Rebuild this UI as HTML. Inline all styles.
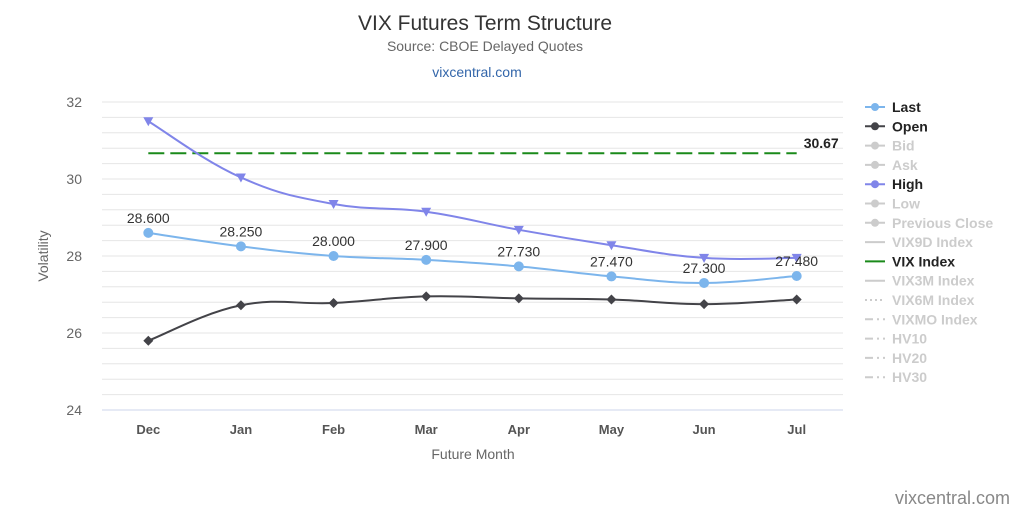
<!DOCTYPE html>
<html><head><meta charset="utf-8"><style>
body{margin:0;background:#fff;font-family:"Liberation Sans",sans-serif}
svg text{font-family:"Liberation Sans",sans-serif}
</style></head><body>
<svg id="c" width="1024" height="512" xmlns="http://www.w3.org/2000/svg">
<text x="485" y="30" text-anchor="middle" font-size="21" fill="#333">VIX Futures Term Structure</text>
<text x="485" y="51" text-anchor="middle" font-size="14" fill="#666">Source: CBOE Delayed Quotes</text>
<text x="477" y="77" text-anchor="middle" font-size="14" fill="#3366aa">vixcentral.com</text>
<text x="1010" y="504" text-anchor="end" font-size="18" fill="#888">vixcentral.com</text>
<text transform="translate(48,256) rotate(-90)" text-anchor="middle" font-size="14" fill="#666">Volatility</text>
<text x="473" y="459" text-anchor="middle" font-size="14" fill="#666">Future Month</text>
<g id="grid"></g><g id="series"></g><g id="legend"></g>
</svg>
<script>
const categories=["Dec","Jan","Feb","Mar","Apr","May","Jun","Jul"];
const lastVals=[28.6,28.25,28.0,27.9,27.73,27.47,27.3,27.48];
const openVals=[25.8,26.72,26.78,26.95,26.9,26.87,26.75,26.87];
const highVals=[31.5,30.04,29.35,29.15,28.68,28.28,27.95,27.95];
const vixIndex=30.67;
const yTicks=[24,26,28,30,32];
const legendItems=["Last","Open","Bid","Ask","High","Low","Previous Close","VIX9D Index","VIX Index","VIX3M Index","VIX6M Index","VIXMO Index","HV10","HV20","HV30"];

const NS="http://www.w3.org/2000/svg";
const L=102,R=843,T=102,B=410,ymin=24,ymax=32;
const x=i=>L+(R-L)/categories.length*(i+0.5);
const y=v=>B-(v-ymin)/(ymax-ymin)*(B-T);
function mk(p,tag,a){const e=document.createElementNS(NS,tag);for(const k in a)e.setAttribute(k,a[k]);p.appendChild(e);return e;}
const grid=document.getElementById('grid'),ser=document.getElementById('series'),leg=document.getElementById('legend');
for(let v=ymin;v<=ymax+1e-6;v+=0.4){
  const l=mk(grid,'line',{x1:L,x2:R,y1:y(v),y2:y(v),stroke:Math.abs(v-ymin)<1e-6?'#ccd6eb':'#e6e6e6','stroke-width':1});
  
  
}
yTicks.forEach(t=>{const e=mk(grid,'text',{x:82,y:y(t)+5,'text-anchor':'end','font-size':14,fill:'#666'});e.textContent=t;
  
  });
categories.forEach((c,i)=>{const e=mk(grid,'text',{x:x(i),y:434,'text-anchor':'middle','font-size':13,'font-weight':'bold',fill:'#555'});e.textContent=c;
  
  });
function path(vals){const p=vals.map((v,i)=>[x(i),y(v)]);let d=`M${p[0][0]},${p[0][1]}`;
  for(let i=0;i<p.length-1;i++){const p0=p[Math.max(0,i-1)],p1=p[i],p2=p[i+1],p3=p[Math.min(p.length-1,i+2)];const k=0.2;
    d+=`C${p1[0]+(p2[0]-p0[0])*k},${p1[1]+(p2[1]-p0[1])*k} ${p2[0]-(p3[0]-p1[0])*k},${p2[1]-(p3[1]-p1[1])*k} ${p2[0]},${p2[1]}`;}
  return d;}
// VIX index
const vl=mk(ser,'line',{x1:x(0),x2:x(7),y1:y(vixIndex),y2:y(vixIndex),stroke:'#1a8a1a','stroke-width':2,'stroke-dasharray':'16,6'});


const vt=mk(ser,'text',{x:x(7)+7,y:y(vixIndex)-5,'font-size':14,'font-weight':'bold',fill:'#222'});vt.textContent=vixIndex.toFixed(2);


function series(vals,color,name,marker){
  const p=mk(ser,'path',{d:path(vals),fill:'none',stroke:color,'stroke-width':2});
  
  
  vals.forEach((v,i)=>{const cx=x(i),cy=y(v);let m;
    if(marker==='c')m=mk(ser,'circle',{cx,cy,r:5,fill:color});
    else if(marker==='d')m=mk(ser,'path',{d:`M${cx},${cy-5}L${cx+5},${cy}L${cx},${cy+5}L${cx-5},${cy}Z`,fill:color});
    else m=mk(ser,'path',{d:`M${cx-5},${cy-4}L${cx+5},${cy-4}L${cx},${cy+5}Z`,fill:color});
    
    });
}
series(highVals,'#8085e9','high','t');
series(openVals,'#434348','open','d');
series(lastVals,'#7cb5ec','last','c');
lastVals.forEach((v,i)=>{const e=mk(ser,'text',{x:x(i),y:y(v)-10,'text-anchor':'middle','font-size':14,fill:'#333'});e.textContent=v.toFixed(3);
  
  });
const active={"Last":'#7cb5ec',"Open":'#434348',"High":'#8085e9',"VIX Index":'#1a8a1a'};
legendItems.forEach((n,i)=>{const ly=107+i*19.3;const col=active[n]||'#ccc';
  const g=mk(leg,'g',{});
  
  
  const dash=n==="VIX6M Index"?'2,3':(n==="VIXMO Index"||n.startsWith("HV"))?'8,4,2,4':'none';
  mk(g,'line',{x1:865,x2:885,y1:ly,y2:ly,stroke:col,'stroke-width':2,'stroke-dasharray':dash});
  if(i<7)mk(g,'circle',{cx:875,cy:ly,r:4,fill:col});
  const t=mk(g,'text',{x:892,y:ly+5,'font-size':14,'font-weight':'bold',fill:active[n]?'#222':'#ccc'});t.textContent=n;});
</script>
</body></html>
